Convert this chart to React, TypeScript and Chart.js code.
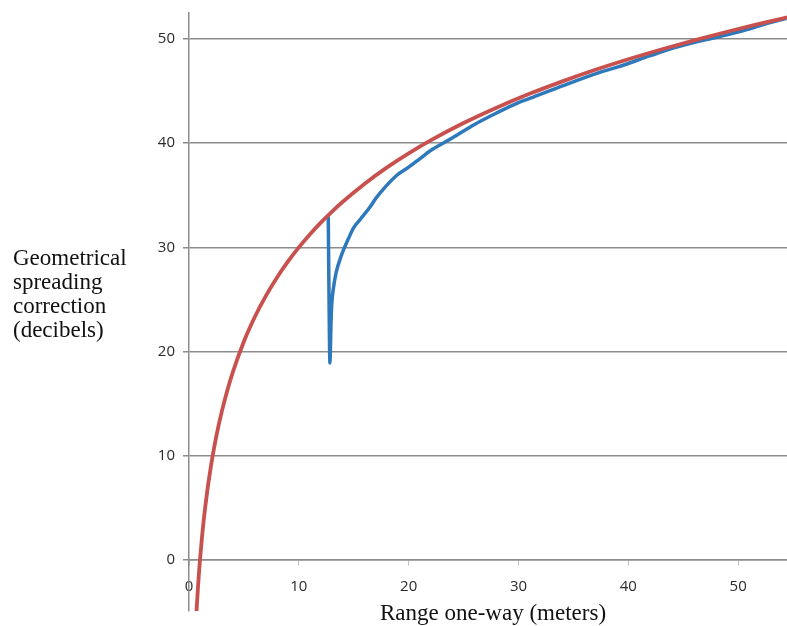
import React, { useEffect, useRef } from "react";
import { Chart, registerables } from "chart.js";

Chart.register(...registerables);

// Range one-way (meters) and correction (dB)
const redX = [0.6, 0.7, 0.8, 0.9, 1, 1.2, 1.5, 2, 2.5, 3, 3.5, 4, 5, 6, 7, 8, 9, 10, 11, 12, 13, 14, 16, 18, 20, 22, 25, 28, 31, 34, 37, 40, 43, 46, 49, 52, 55];
const redY = [-6.66, -4.65, -2.91, -1.37, 0, 2.38, 5.28, 9.03, 11.94, 14.31, 16.32, 18.06, 20.97, 23.34, 25.35, 27.09, 28.63, 30.0, 31.24, 32.38, 33.42, 34.38, 36.12, 37.66, 39.03, 40.27, 41.94, 43.41, 44.74, 45.94, 47.05, 48.06, 49.0, 49.88, 50.7, 51.48, 52.21];

const blueX = [12.68, 12.72, 12.78, 12.83, 12.88, 12.93, 13.0, 13.14, 13.4, 13.9, 14.5, 15.0, 15.6, 16.5, 17.0, 17.7, 18.9, 20, 21, 22, 23.8, 26, 28, 30, 31.3, 34, 37.4, 39, 42, 44, 46.5, 49, 50.8, 52, 54.4];
const blueY = [33.0, 28.5, 22.0, 18.9, 20.5, 22.8, 24.6, 26.0, 27.6, 29.3, 30.8, 31.9, 32.7, 33.9, 34.7, 35.6, 36.9, 37.7, 38.5, 39.3, 40.4, 41.8, 42.9, 43.9, 44.4, 45.5, 46.8, 47.3, 48.4, 49.1, 49.8, 50.4, 50.9, 51.3, 52.0];

const xTicks = [0, 10, 20, 30, 40, 50];
const yTicks = [0, 10, 20, 30, 40, 50];

const yTitleLines = ["Geometrical", "spreading", "correction", "(decibels)"];
const xTitle = "Range one-way (meters)";

const titlesPlugin = {
  id: "titles",
  afterDraw(chart: any) {
    const ctx = chart.ctx;
    const area = chart.chartArea;
    ctx.save();
    ctx.fillStyle = "#111111";
    ctx.font = '23px "Liberation Serif", "Times New Roman", serif';
    ctx.textBaseline = "alphabetic";
    ctx.textAlign = "left";
    yTitleLines.forEach((t, i) => {
      ctx.fillText(t, 13, 265 + i * 24);
    });
    ctx.textAlign = "center";
    ctx.fillText(xTitle, (area.left + area.right) / 2 + 5, 620);
    ctx.restore();
  },
};

export default function App() {
  const ref = useRef<HTMLCanvasElement>(null);

  useEffect(() => {
    document.body.style.margin = "0";
    document.body.style.overflow = "hidden";
    const canvas = ref.current;
    if (!canvas) return;
    const gridColor = "#8c8c8c";
    const chart = new Chart(canvas, {
      type: "scatter",
      data: {
        datasets: [
          {
            label: "blue",
            data: blueX.map((x, i) => ({ x, y: blueY[i] })),
            showLine: true,
            borderColor: "#2e78bc",
            backgroundColor: "#2e78bc",
            borderWidth: 3.5,
            pointRadius: 0,
            cubicInterpolationMode: "monotone",
            order: 2,
          },
          {
            label: "red",
            data: redX.map((x, i) => ({ x, y: redY[i] })),
            showLine: true,
            borderColor: "#c8504d",
            backgroundColor: "#c8504d",
            borderWidth: 3.8,
            pointRadius: 0,
            cubicInterpolationMode: "monotone",
            order: 1,
          },
        ],
      },
      options: {
        animation: false,
        responsive: false,
        devicePixelRatio: 1,
        layout: { padding: { top: 13, bottom: 15, left: 0, right: 0 } },
        plugins: {
          legend: { display: false },
          tooltip: { enabled: false },
        },
        scales: {
          x: {
            type: "linear",
            min: 0,
            max: 54.45,
            position: { y: 0 } as any,
            afterBuildTicks: (s: any) => {
              s.ticks = xTicks.map((v) => ({ value: v }));
            },
            afterFit: (s: any) => {
              s.paddingLeft = 0;
              s.paddingRight = 0;
            },
            grid: {
              drawOnChartArea: false,
              drawTicks: true,
              tickLength: 5,
              color: "#bdbdbd",
            },
            border: { display: true, color: gridColor, width: 1.5 },
            ticks: {
              color: "#2a2a2a",
              font: { family: '"Open Sans", sans-serif', size: 15 },
              padding: 13,
              maxRotation: 0,
            },
          },
          y: {
            type: "linear",
            min: -4.9,
            max: 52.5,
            position: "left",
            afterBuildTicks: (s: any) => {
              s.ticks = yTicks.map((v) => ({ value: v }));
            },
            afterFit: (s: any) => {
              s.width = 189;
              s.paddingTop = 0;
              s.paddingBottom = 0;
            },
            grid: {
              color: gridColor,
              lineWidth: 1.5,
              tickLength: 6,
            },
            border: { display: true, color: gridColor, width: 1.5 },
            ticks: {
              color: "#2a2a2a",
              font: { family: '"Open Sans", sans-serif', size: 15 },
              padding: 8,
            },
          },
        },
      },
      plugins: [titlesPlugin],
    });
    return () => chart.destroy();
  }, []);

  return (
    <div style={{ width: 787, height: 626 }}>
      <canvas ref={ref} width={787} height={626} style={{ display: "block" }} />
    </div>
  );
}
